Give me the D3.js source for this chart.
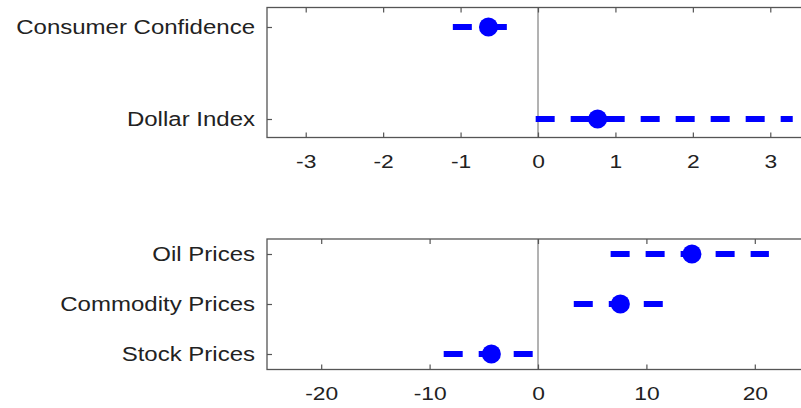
<!DOCTYPE html>
<html>
<head>
<meta charset="utf-8">
<script src="https://cdn.jsdelivr.net/npm/d3@7"></script>
<style>
  body { margin: 0; background: #fff; }
</style>
</head>
<body>
<div id="plot_area"></div>
<script>
// Chart data
const topCats = ['Consumer Confidence', 'Dollar Index'];
const topEst = [-0.64, 0.77];
const topLow = [-1.1, -0.03];
const topHigh = [-0.26, 3.29];
const topTicks = [-3, -2, -1, 0, 1, 2, 3];

const botCats = ['Oil Prices', 'Commodity Prices', 'Stock Prices'];
const botEst = [14.2, 7.6, -4.3];
const botLow = [6.7, 3.3, -8.7];
const botHigh = [21.3, 12.2, 0.33];
const botTicks = [-20, -10, 0, 10, 20];

// Size and layout
const w = 801;
const h = 408;
const left = 267;
const right = 809;
const tickLen = 5;
const stretch = 1.2; // the reference text is drawn wide

const svg = d3.select('#plot_area')
    .append('svg')
    .attr('width', w)
    .attr('height', h);

// widen text glyphs horizontally
function widen(sel) {
    sel.each(function () {
        const len = this.getComputedTextLength();
        d3.select(this)
            .attr('textLength', len * stretch)
            .attr('lengthAdjust', 'spacingAndGlyphs');
    });
}

function drawPanel(cats, est, low, high, ticks, xDomain, top, bottom, rowRange) {
    const xScale = d3.scaleLinear()
        .domain(xDomain)
        .range([left, right]);
    const yScale = d3.scalePoint()
        .domain(cats)
        .range(rowRange);

    const g = svg.append('g');

    // zero line
    g.append('line')
        .attr('x1', xScale(0)).attr('x2', xScale(0))
        .attr('y1', top).attr('y2', bottom)
        .attr('stroke', '#666')
        .attr('stroke-width', 1);

    // frame
    g.append('rect')
        .attr('x', left).attr('y', top)
        .attr('width', right - left).attr('height', bottom - top)
        .attr('fill', 'none')
        .attr('stroke', '#555')
        .attr('stroke-width', 1.3);

    // x ticks, bottom and top, pointing inside
    const xAxisB = d3.axisBottom(xScale)
        .tickValues(ticks)
        .tickFormat((d) => String(d))
        .tickSizeInner(-tickLen).tickSizeOuter(0).tickPadding(17);
    const gb = g.append('g')
        .attr('transform', 'translate(0,' + bottom + ')')
        .call(xAxisB);
    gb.select('.domain').remove();
    gb.selectAll('line').attr('stroke', '#555').attr('stroke-width', 1.2);
    gb.selectAll('text')
        .style('font-family', 'Liberation Sans, Arial, sans-serif')
        .style('font-size', '19px')
        .attr('fill', '#222')
        .attr('dy', '0.71em')
        .call(widen);

    const xAxisT = d3.axisTop(xScale).tickValues(ticks).tickSizeInner(-tickLen).tickSizeOuter(0).tickFormat('');
    const gt = g.append('g')
        .attr('transform', 'translate(0,' + top + ')')
        .call(xAxisT);
    gt.select('.domain').remove();
    gt.selectAll('line').attr('stroke', '#555').attr('stroke-width', 1.2);

    // y ticks pointing inside, labels on the left
    const yAxis = d3.axisLeft(yScale).tickSizeInner(-tickLen).tickSizeOuter(0).tickPadding(12);
    const gy = g.append('g')
        .attr('transform', 'translate(' + left + ',0)')
        .call(yAxis);
    gy.select('.domain').remove();
    gy.selectAll('line').attr('stroke', '#555').attr('stroke-width', 1.2);
    gy.selectAll('text')
        .style('font-family', 'Liberation Sans, Arial, sans-serif')
        .style('font-size', '20px')
        .attr('fill', '#222')
        .call(widen);

    // confidence ranges
    g.selectAll('.ci')
        .data(cats)
        .enter()
        .append('line')
        .attr('x1', (d, i) => xScale(low[i]))
        .attr('x2', (d, i) => xScale(high[i]))
        .attr('y1', (d) => yScale(d))
        .attr('y2', (d) => yScale(d))
        .attr('stroke', '#0000ff')
        .attr('stroke-width', 6)
        .attr('stroke-dasharray', '19,16');

    // point estimates
    g.selectAll('.pt')
        .data(cats)
        .enter()
        .append('circle')
        .attr('cx', (d, i) => xScale(est[i]))
        .attr('cy', (d) => yScale(d))
        .attr('r', 9.5)
        .attr('fill', '#0000ff');
}

drawPanel(topCats, topEst, topLow, topHigh, topTicks, [-3.5, 3.5], 7.5, 137.5, [27, 119]);
drawPanel(botCats, botEst, botLow, botHigh, botTicks, [-25, 25], 239, 369.5, [254, 354]);
</script>
</body>
</html>
